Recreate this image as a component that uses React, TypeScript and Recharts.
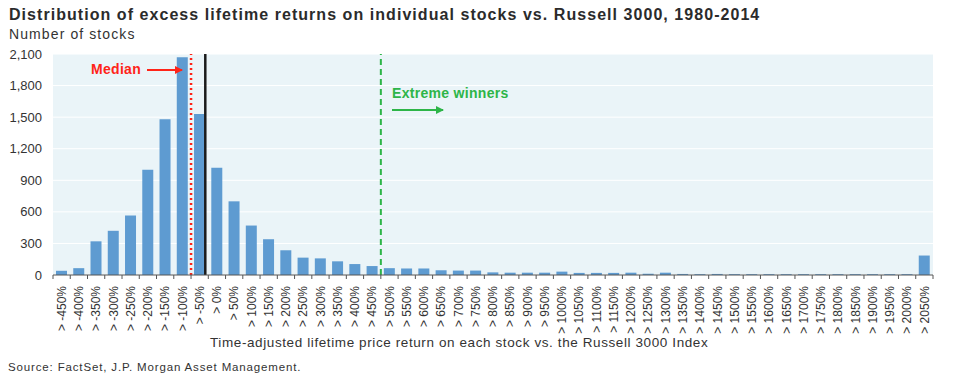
import { Bar, BarChart, CartesianGrid, ReferenceLine, XAxis, YAxis } from 'recharts';

const FONT = '"Liberation Sans", Arial, sans-serif';

const CATEGORIES = [
    '> -450%', '> -400%', '> -350%', '> -300%', '> -250%', '> -200%', '> -150%', '> -100%', '> -50%', '> 0%',
    '> 50%', '> 100%', '> 150%', '> 200%', '> 250%', '> 300%', '> 350%', '> 400%', '> 450%', '> 500%',
    '> 550%', '> 600%', '> 650%', '> 700%', '> 750%', '> 800%', '> 850%', '> 900%', '> 950%', '> 1000%',
    '> 1050%', '> 1100%', '> 1150%', '> 1200%', '> 1250%', '> 1300%', '> 1350%', '> 1400%', '> 1450%', '> 1500%',
    '> 1550%', '> 1600%', '> 1650%', '> 1700%', '> 1750%', '> 1800%', '> 1850%', '> 1900%', '> 1950%', '> 2000%',
    '> 2050%',
];

// number of stocks per bucket
const STOCK_COUNTS = [
    40, 65, 320, 420, 565, 1000, 1480, 2070, 1530, 1020,
    700, 470, 340, 235, 165, 158, 130, 104, 85, 65,
    62, 62, 45, 42, 42, 25, 22, 22, 22, 32,
    20, 20, 20, 22, 12, 22, 10, 8, 10, 8,
    8, 8, 8, 8, 8, 8, 8, 8, 8, 8,
    185,
];

const Y_TICKS = [0, 300, 600, 900, 1200, 1500, 1800, 2100];

const MEDIAN_BUCKET = '> -50%';
const ZERO_BUCKET = '> -50%';
const WINNERS_BUCKET = '> 500%';

const COLORS = {
    bar: '#5E9BD1',
    plotBg: '#EAF4F8',
    text: '#333333',
    median: '#FF2418',
    winners: '#2DB548',
    axis: '#555555',
};

const chartData = CATEGORIES.map((bucket, i) => ({ bucket, count: STOCK_COUNTS[i] }));

function BucketTick(props: any) {
    const { x, y, payload, index } = props;
    const half = payload?.offset ?? 8.6;
    const axisY = y - 11;
    return (
        <g>
            <line x1={x - half} x2={x - half} y1={axisY} y2={axisY + 4} stroke={COLORS.axis} strokeWidth={1} />
            {index === CATEGORIES.length - 1 && (
                <line x1={x + half} x2={x + half} y1={axisY} y2={axisY + 4} stroke={COLORS.axis} strokeWidth={1} />
            )}
            <text
                transform={`translate(${x},${y}) rotate(-90)`}
                textAnchor="end"
                dy="0.35em"
                fontSize={12}
                fill={COLORS.text}
                fontFamily={FONT}
            >
                {payload.value}
            </text>
        </g>
    );
}

// the black zero line sits a little left of the bucket edge in the original
function ZeroLine(props: any) {
    const { x1, y1, x2, y2 } = props;
    return <line x1={x1 - 3} y1={y1} x2={x2 - 3} y2={y2} stroke="#1b1b1b" strokeWidth={2.5} />;
}

export default function App() {
    return (
        <div style={{ position: 'absolute', left: 0, top: 0, width: 960, height: 373, background: '#fff', fontFamily: FONT }}>
            <BarChart width={960} height={373} data={chartData} margin={{ top: 54, right: 27, left: 0, bottom: 0 }}>
                <CartesianGrid vertical={false} stroke="#ffffff" strokeWidth={1} fill={COLORS.plotBg} />
                <XAxis
                    dataKey="bucket"
                    interval={0}
                    height={98}
                    tick={<BucketTick />}
                    tickLine={false}
                    tickSize={4}
                    tickMargin={7}
                    axisLine={{ stroke: COLORS.axis, strokeWidth: 1 }}
                />
                <YAxis
                    domain={[0, 2100]}
                    ticks={Y_TICKS}
                    width={53}
                    axisLine={false}
                    tickLine={false}
                    tickMargin={5}
                    tick={{ fontSize: 13, fill: COLORS.text, fontFamily: FONT }}
                    tickFormatter={(value: number) => value.toLocaleString('en-US')}
                />
                <Bar dataKey="count" fill={COLORS.bar} barSize={11} isAnimationActive={false} />
                <ReferenceLine x={MEDIAN_BUCKET} position="start" stroke={COLORS.median} strokeWidth={2.5} strokeDasharray="2 3" />
                <ReferenceLine x={ZERO_BUCKET} position="end" stroke="#1b1b1b" strokeWidth={2.5} shape={<ZeroLine />} />
                <ReferenceLine x={WINNERS_BUCKET} position="start" stroke={COLORS.winners} strokeWidth={2} strokeDasharray="6 4" />
            </BarChart>

            <svg width={960} height={373} style={{ position: 'absolute', left: 0, top: 0, pointerEvents: 'none' }}>
                <defs>
                    <marker id="arrowRed" markerWidth="8" markerHeight="8" refX="7" refY="4" orient="auto" markerUnits="userSpaceOnUse">
                        <path d="M0,0 L8,4 L0,8 z" fill={COLORS.median} />
                    </marker>
                    <marker id="arrowGreen" markerWidth="8" markerHeight="8" refX="7" refY="4" orient="auto" markerUnits="userSpaceOnUse">
                        <path d="M0,0 L8,4 L0,8 z" fill={COLORS.winners} />
                    </marker>
                </defs>
                <text x={9} y={19.5} fontSize={16} fontWeight="bold" letterSpacing={1.05} fill="#2b2b2b" fontFamily={FONT}>
                    Distribution of excess lifetime returns on individual stocks vs. Russell 3000, 1980-2014
                </text>
                <text x={9} y={39} fontSize={14} letterSpacing={1.1} fill={COLORS.text} fontFamily={FONT}>
                    Number of stocks
                </text>

                <text x={91} y={74} fontSize={14} fontWeight="bold" letterSpacing={0.3} fill={COLORS.median} fontFamily={FONT}>
                    Median
                </text>
                <line x1={147} y1={70} x2={182} y2={70} stroke={COLORS.median} strokeWidth={2} markerEnd="url(#arrowRed)" />

                <text x={392} y={98} fontSize={14} fontWeight="bold" letterSpacing={0.3} fill={COLORS.winners} fontFamily={FONT}>
                    Extreme winners
                </text>
                <line x1={392} y1={110} x2={443} y2={110} stroke={COLORS.winners} strokeWidth={2} markerEnd="url(#arrowGreen)" />

                <text x={210} y={347} fontSize={13.5} letterSpacing={0.6} fill={COLORS.text} fontFamily={FONT}>
                    Time-adjusted lifetime price return on each stock vs. the Russell 3000 Index
                </text>
                <text x={8} y={370.5} fontSize={11.5} letterSpacing={0.85} fill={COLORS.text} fontFamily={FONT}>
                    Source: FactSet, J.P. Morgan Asset Management.
                </text>
            </svg>
        </div>
    );
}
